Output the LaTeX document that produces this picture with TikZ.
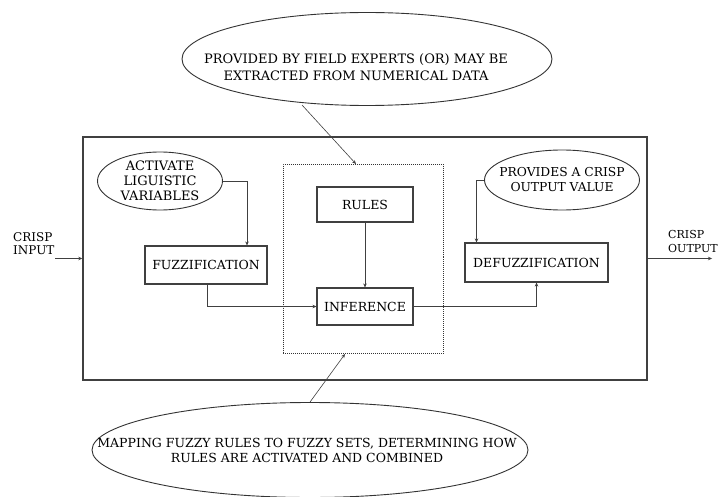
\documentclass[tikz,border=0pt]{standalone}
\usepackage{fontspec}
\setmainfont{DejaVu Serif}
\usetikzlibrary{shapes.geometric,arrows.meta}
\newcommand{\nowide}[2][0pt]{\makebox[0pt]{#2\hspace*{#1}}}
\begin{document}
\begin{tikzpicture}[x=1pt,y=-1pt,
 blk/.style={shape=rectangle,draw=black!75,line width=1.1pt,inner sep=0pt,font=\fontsize{12.5}{14}\selectfont},
 bubble/.style={shape=ellipse,draw=black!80,line width=0.9pt,inner sep=0pt,align=center},
 conn/.style={draw=black!75,line width=0.6pt,-{Stealth[length=4pt,width=3.5pt]}}]
 \useasboundingbox (0,0) rectangle (725,497);
 \node (system) at (365,258.5) [shape=rectangle,draw=black!75,line width=1.4pt,minimum width=564pt,minimum height=243pt] {};
 \node (engine) at (363,259) [shape=rectangle,draw=black!80,line width=1pt,densely dotted,minimum width=160pt,minimum height=189pt] {};
 \node (fuzz) at (206,265) [blk,minimum width=122pt,minimum height=38pt] {FUZZIFICATION};
 \node (rules) at (365,204.5) [blk,minimum width=96pt,minimum height=35pt] {RULES};
 \node (infer) at (365,306.5) [blk,minimum width=96pt,minimum height=37pt] {INFERENCE};
 \node (defuzz) at (536.5,262.5) [blk,minimum width=143pt,minimum height=39pt] {DEFUZZIFICATION};
 \node (experts) at (367,59) [bubble,minimum width=370pt,minimum height=93pt,font=\fontsize{13}{17}\selectfont] {\rule{0pt}{26pt}\nowide[22pt]{PROVIDED BY FIELD EXPERTS (OR) MAY BE}\\\nowide[22pt]{EXTRACTED FROM NUMERICAL DATA}};
 \node (ling) at (160,181) [bubble,minimum width=125pt,minimum height=58pt,font=\fontsize{13}{15}\selectfont] {\nowide{ACTIVATE}\\\nowide{LIGUISTIC}\\\nowide{VARIABLES}};
 \node (crispval) at (562,180) [bubble,minimum width=155pt,minimum height=60pt,font=\fontsize{12.3}{15}\selectfont] {\nowide{PROVIDES A CRISP}\\\nowide{OUTPUT VALUE}};
 \node (mapping) at (310,450) [bubble,minimum width=436pt,minimum height=95pt,font=\fontsize{12.5}{15}\selectfont] {\nowide[6pt]{MAPPING FUZZY RULES TO FUZZY SETS, DETERMINING HOW}\\\nowide[6pt]{RULES ARE ACTIVATED AND COMBINED}};
 \node (crisp in) at (13,244) [anchor=west,align=left,inner sep=0pt,font=\fontsize{12}{13}\selectfont] {CRISP\\INPUT};
 \node (crisp out) at (668,241) [anchor=west,align=left,inner sep=0pt,font=\fontsize{11}{14}\selectfont] {CRISP\\OUTPUT};
 \coordinate (in end) at (55,258.5);
 \coordinate (out end) at (712,258.5);
 \draw[conn] (in end) -- (system.west);
 \draw[conn] (system.east) -- (out end);
 \draw[conn] (ling.east) -| ([xshift=41pt]fuzz.north);
 \draw[conn] ([xshift=1pt]fuzz.south) |- (infer.west);
 \draw[conn] (rules) -- (infer);
 \draw[conn] (infer.east) -| (defuzz.south);
 \draw[conn] (crispval.west) -| ([xshift=-60pt]defuzz.north);
 \draw[conn] (302,105) -- ([xshift=-7pt]engine.north);
 \draw[conn] (mapping.north) -- ([xshift=-18pt]engine.south);
\end{tikzpicture}
\end{document}
